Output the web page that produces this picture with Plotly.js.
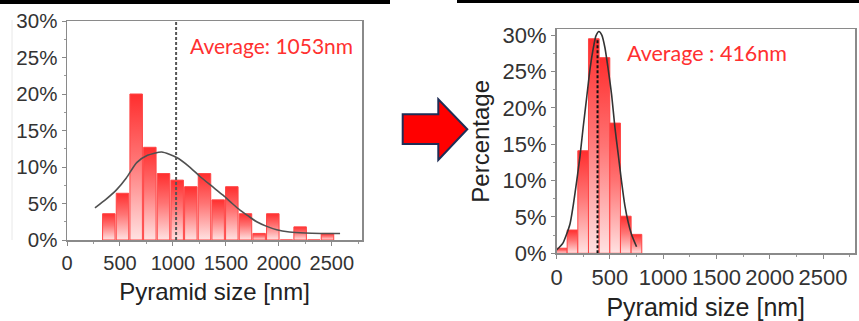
<!DOCTYPE html>
<html><head><meta charset="utf-8">
<script src="https://cdn.plot.ly/plotly-3.0.1.min.js"></script>
<style>html,body{margin:0;padding:0;background:#fff}#chart{width:859px;height:321px}</style>
</head><body><div id="chart"></div>
<script>
// ---- Left panel (before): pyramid size histogram ----
const sizesBefore = [395, 524, 653, 782, 911, 1040, 1169, 1298, 1427, 1556, 1685, 1814, 1943, 2072, 2201, 2330, 2459];
const pctBefore   = [3.6, 6.4, 20.0, 12.7, 9.1, 8.2, 7.3, 9.1, 5.5, 7.3, 3.6, 0.9, 3.6, 0, 1.8, 0, 0.9];
const fitBeforeX  = [264, 370, 469, 560, 658, 760, 894, 1035, 1150, 1255, 1365, 1476, 1560, 1633, 1710, 1791, 1880, 1980, 2100, 2250, 2400, 2578];
const fitBeforeY  = [4.4, 5.6, 6.9, 8.5, 10.6, 11.6, 12.05, 11.3, 10.1, 8.7, 7.4, 6.1, 5.0, 4.1, 3.3, 2.5, 1.9, 1.4, 1.1, 0.95, 0.9, 0.9];
const meanLineBefore = 1030;
const labelBefore = "Average: 1053nm";

// ---- Right panel (after) ----
const sizesAfter = [50, 150, 250, 350, 450, 550, 650, 750];
const pctAfter   = [0.7, 3.2, 14.1, 29.5, 26.9, 17.9, 5.1, 2.6];
const fitAfterX  = [0, 60, 126, 157, 190, 220, 250, 283, 315, 345, 370, 398, 425, 454, 485, 517, 548, 579, 610, 641, 672, 704, 751];
const fitAfterY  = [0.45, 1.4, 4.0, 6.6, 10.0, 13.3, 17.3, 21.4, 25.4, 28.2, 29.9, 30.5, 30.0, 28.3, 25.3, 21.8, 17.3, 13.6, 9.9, 6.6, 4.3, 2.6, 0.9];
const meanLineAfter = 385;
const labelAfter = "Average : 416nm";

const xTicks = [0, 500, 1000, 1500, 2000, 2500];
const yTicks = [0, 5, 10, 15, 20, 25, 30];
const yTickText = ["0%", "5%", "10%", "15%", "20%", "25%", "30%"];
const xTitle = "Pyramid size [nm]";
const yTitle = "Percentage";

const W = 859, H = 321;
const font = "Liberation Sans, Arial, sans-serif";
const red = "#ff3030";

const traces = [
  {type:'bar', x:sizesBefore, y:pctBefore, width:118, xaxis:'x', yaxis:'y',
   marker:{color:'#ff8080', line:{color:'#ff4545', width:1}}, hoverinfo:'skip'},
  {type:'scatter', mode:'lines', x:fitBeforeX, y:fitBeforeY, xaxis:'x', yaxis:'y',
   line:{color:'#505050', width:1.6, shape:'spline', smoothing:0.6}, hoverinfo:'skip'},
  {type:'scatter', mode:'lines', x:[meanLineBefore, meanLineBefore], y:[0, 30], xaxis:'x', yaxis:'y',
   line:{color:'#555', width:2, dash:'3px,2px'}, hoverinfo:'skip'},
  {type:'bar', x:sizesAfter, y:pctAfter, width:100, xaxis:'x2', yaxis:'y2',
   marker:{color:'#ff8080', line:{color:'#ff4545', width:1}}, hoverinfo:'skip'},
  {type:'scatter', mode:'lines', x:fitAfterX, y:fitAfterY, xaxis:'x2', yaxis:'y2',
   line:{color:'#333', width:1.6, shape:'spline', smoothing:0.6}, hoverinfo:'skip'},
  {type:'scatter', mode:'lines', x:[meanLineAfter, meanLineAfter], y:[0, 29.5], xaxis:'x2', yaxis:'y2',
   line:{color:'#111', width:2, dash:'3px,2px'}, hoverinfo:'skip'}
];

function xAx(domain, range, fs, tfs, standoff) {
  return {domain, range, tickmode:'array', tickvals:xTicks, ticks:'outside', ticklen:4, tickwidth:1, tickcolor:'#888',
    minor:{dtick:250, tick0:0, ticks:'outside', ticklen:2, tickcolor:'#999'},
    showline:true, linecolor:'#8a8a8a', linewidth:1.5, mirror:true, showgrid:false, zeroline:false,
    tickfont:{family:font, size:fs, color:'#333'},
    title:{text:xTitle, font:{family:font, size:tfs, color:'#222'}, standoff},
    automargin:false, fixedrange:true};
}
function yAx(domain, range, fs, anchor, title) {
  return {domain, range, tickmode:'array', tickvals:yTicks, ticktext:yTickText, ticks:'outside', ticklen:4, tickwidth:1, tickcolor:'#888',
    minor:{dtick:2.5, tick0:0, ticks:'outside', ticklen:2, tickcolor:'#999'},
    showline:true, linecolor:'#8a8a8a', linewidth:1.5, mirror:true, showgrid:false, zeroline:false,
    tickfont:{family:font, size:fs, color:'#333'}, anchor,
    title: title, automargin:false, fixedrange:true};
}

const layout = {
  width:W, height:H, margin:{l:0, r:0, t:0, b:0},
  paper_bgcolor:'#fff', plot_bgcolor:'rgba(0,0,0,0)', showlegend:false,
  xaxis: Object.assign(xAx([67/W, 362/W], [0, 2785], 20, 24, 10), {anchor:'y'}),
  yaxis: yAx([1-240/H, 1-21/H], [0, 30], 20.5, 'x', {text:''}),
  xaxis2: Object.assign(xAx([556.5/W, 855/W], [0, 2800], 22, 25, 13), {anchor:'y2'}),
  yaxis2: yAx([1-253.3/H, 1-29.3/H], [0, 30.8], 22, 'x2',
    {text:yTitle, font:{family:font, size:24, color:'#222'}, standoff:6}),
  xaxis3: {domain:[0,1], range:[0, W], visible:false, fixedrange:true, anchor:'y3'},
  yaxis3: {domain:[0,1], range:[H, 0], visible:false, fixedrange:true, anchor:'x3'},
  shapes: [
    {type:'rect', xref:'x3', yref:'y3', x0:0, x1:390, y0:0, y1:4, fillcolor:'#000', line:{width:0}},
    {type:'rect', xref:'x3', yref:'y3', x0:457, x1:W, y0:0, y1:3, fillcolor:'#000', line:{width:0}},
    {type:'line', xref:'x3', yref:'y3', x0:12, x1:12, y0:20, y1:240, line:{color:'#e8e8e8', width:1}},
    {type:'path', xref:'x3', yref:'y3',
     path:'M402.7,114.3 L438.3,114.3 L438.3,99.3 L467.3,129.3 L438.3,160 L438.3,144 L402.7,144 Z',
     fillcolor:'#ff0000', line:{color:'#1f2d55', width:2}, layer:'above'}
  ],
  annotations: [
    {xref:'x3', yref:'y3', x:188, y:45, xanchor:'left', yanchor:'middle', showarrow:false,
     text:labelBefore, font:{family:'Lato, Carlito, sans-serif', size:21, color:red}},
    {xref:'x3', yref:'y3', x:625, y:53, xanchor:'left', yanchor:'middle', showarrow:false,
     text:labelAfter, font:{family:'Lato, Carlito, sans-serif', size:21.5, color:red}}
  ]
};

Plotly.newPlot('chart', traces, layout, {staticPlot:true, displayModeBar:false}).then(gd => {
  const svg = gd.querySelector('.main-svg');
  const ns = 'http://www.w3.org/2000/svg';
  let defs = svg.querySelector('defs');
  if (!defs) { defs = document.createElementNS(ns, 'defs'); svg.insertBefore(defs, svg.firstChild); }
  const g = document.createElementNS(ns, 'linearGradient');
  g.setAttribute('id', 'barGrad'); g.setAttribute('x1', '0'); g.setAttribute('y1', '0');
  g.setAttribute('x2', '0'); g.setAttribute('y2', '1');
  [['0', '#ff2e2e'], ['0.45', '#ff7474'], ['1', '#ffe2e2']].forEach(([o, c]) => {
    const s = document.createElementNS(ns, 'stop');
    s.setAttribute('offset', o); s.setAttribute('stop-color', c); g.appendChild(s);
  });
  defs.appendChild(g);
  gd.querySelectorAll('.barlayer .point path').forEach(p => { p.style.fill = 'url(#barGrad)'; });
});
</script>
</body></html>
